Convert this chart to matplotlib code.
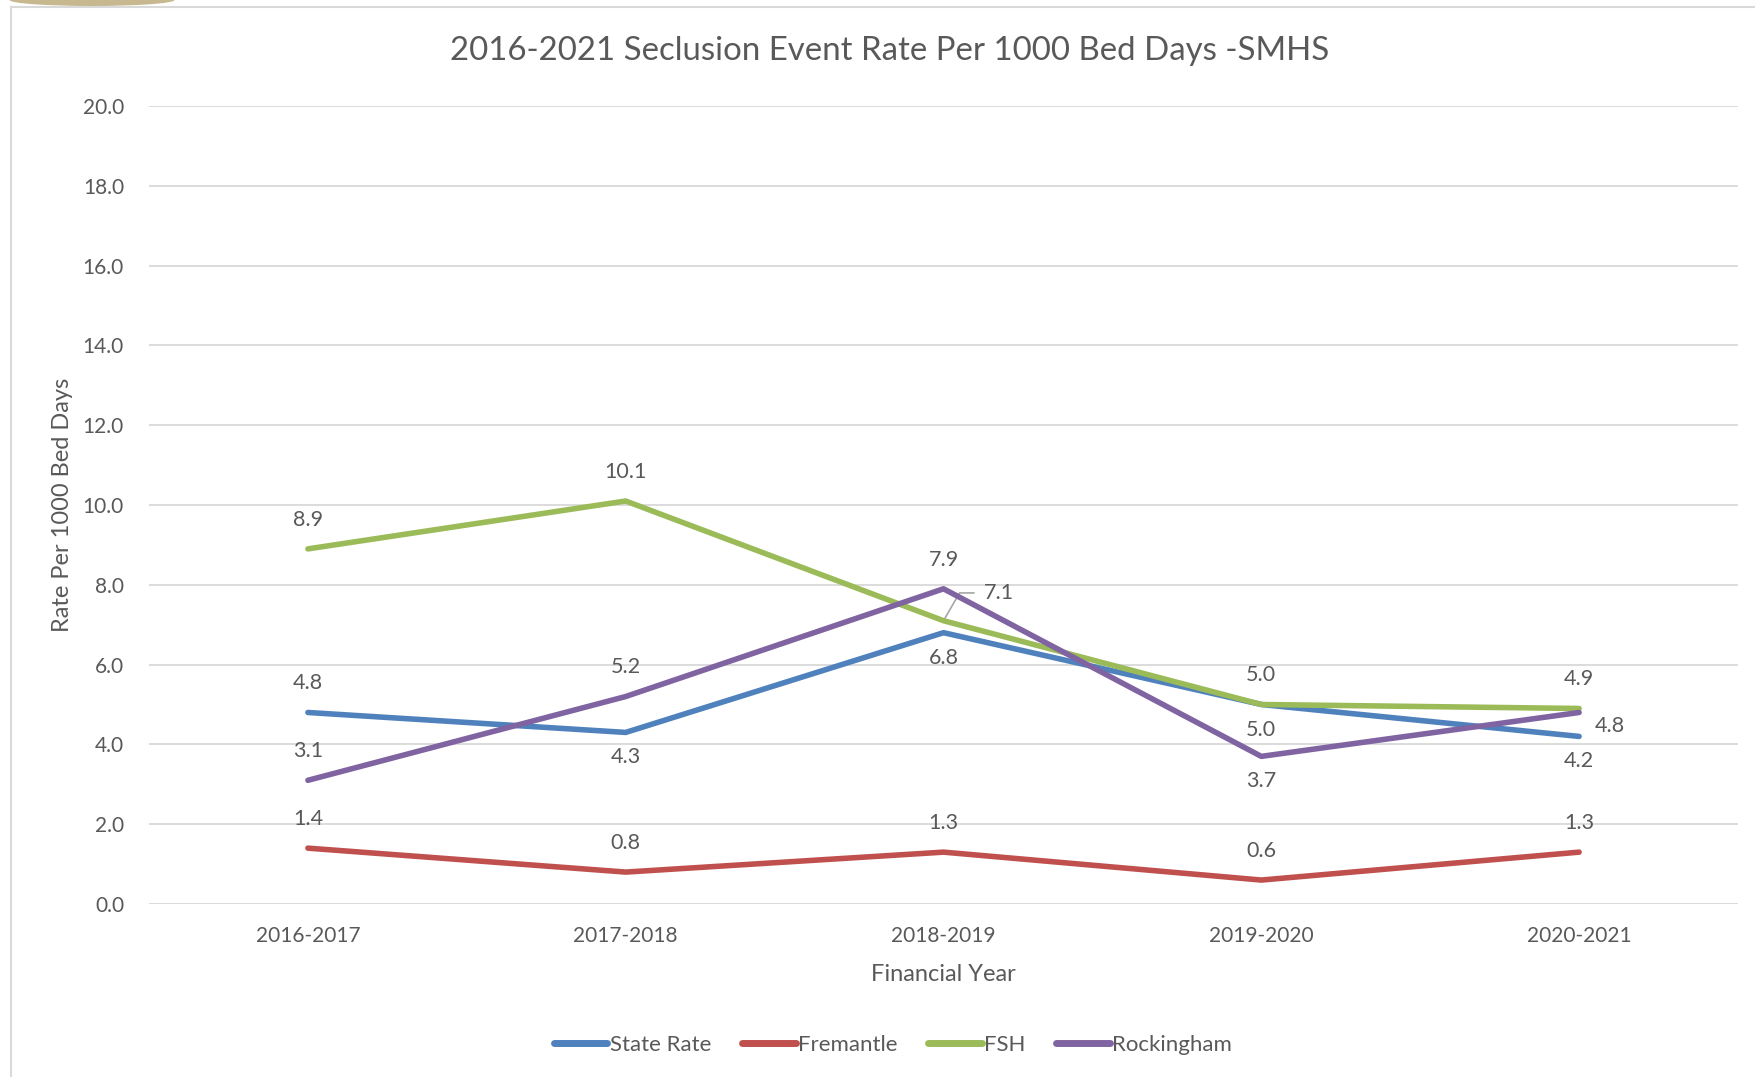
import matplotlib.pyplot as plt
from matplotlib.patches import Rectangle, Ellipse

plt.rcParams['font.family'] = ['Lato', 'DejaVu Sans']

years = ['2016-2017', '2017-2018', '2018-2019', '2019-2020', '2020-2021']
state_rate = [4.8, 4.3, 6.8, 5.0, 4.2]
fremantle = [1.4, 0.8, 1.3, 0.6, 1.3]
fsh = [8.9, 10.1, 7.1, 5.0, 4.9]
rockingham = [3.1, 5.2, 7.9, 3.7, 4.8]

names = ['State Rate', 'Fremantle', 'FSH', 'Rockingham']
colors = ['#4F81BD', '#C0504D', '#9BBB59', '#8064A2']

# where the data label sits for each point: a = above, b = below, r = right, c = callout
places = [
    ['a', 'b', 'b', 'b', 'b'],
    ['a', 'a', 'a', 'a', 'a'],
    ['a', 'a', 'c', 'a', 'a'],
    ['a', 'a', 'a', 'b', 'r'],
]

txt = '#595959'
grid = '#D9D9D9'

fig = plt.figure(figsize=(17.55, 10.77), dpi=100)
# chart border and bit of logo at the top
fig.patches.append(Rectangle((11 / 1755, -0.1), 1.2, 1.1 - 7 / 1077, transform=fig.transFigure,
                             fill=False, edgecolor=grid, linewidth=1.5))
fig.patches.append(Ellipse((92 / 1755, 1.0), 165 / 1755, 12 / 1077, transform=fig.transFigure,
                           facecolor='#C8B890', edgecolor='none'))

ax = fig.add_axes([149 / 1755, 1 - 904 / 1077, 1589 / 1755, 798 / 1077])

x = list(range(len(years)))
series = [state_rate, fremantle, fsh, rockingham]
for vals, name, col, pl in zip(series, names, colors, places):
    ax.plot(x, vals, color=col, lw=4.0, solid_capstyle='round', solid_joinstyle='round',
            label=name, zorder=3)
    for xi, v, p in zip(x, vals, pl):
        s = f'{v:.1f}'
        if p == 'a':
            ax.annotate(s, (xi, v), xytext=(0, 21), textcoords='offset points',
                        ha='center', va='center', fontsize=15.5, color=txt)
        elif p == 'b':
            ax.annotate(s, (xi, v), xytext=(0, -18), textcoords='offset points',
                        ha='center', va='center', fontsize=15.5, color=txt)
        elif p == 'r':
            ax.annotate(s, (xi, v), xytext=(22, -10), textcoords='offset points',
                        ha='center', va='center', fontsize=15.5, color=txt)
        else:
            ax.annotate(s, (xi, v), xytext=(40, 20), textcoords='offset points',
                        ha='center', va='center', fontsize=15.5, color=txt)
            ax.annotate('', (xi, v), xytext=(24, 20), textcoords='offset points',
                        arrowprops=dict(arrowstyle='-', color='#A6A6A6', lw=1.2,
                                        connectionstyle='angle,angleA=0,angleB=60,rad=0'))

ax.set_xlim(-0.5, 4.5)
ax.set_ylim(0, 20)
ax.set_yticks(range(0, 21, 2))
ax.set_yticklabels([f'{t:.1f}' for t in range(0, 21, 2)])
ax.set_xticks(x)
ax.set_xticklabels(years)
ax.tick_params(length=0, labelsize=15, labelcolor=txt)
ax.tick_params(axis='y', pad=18)
ax.tick_params(axis='x', pad=16)
ax.grid(axis='y', color=grid, lw=1.3)
ax.set_axisbelow(True)
for s in ax.spines.values():
    s.set_visible(False)

ax.set_xlabel('Financial Year', fontsize=17, color=txt, labelpad=13)
ax.set_ylabel('Rate Per 1000 Bed Days', fontsize=17, color=txt, labelpad=7)
fig.text(890 / 1755, 1 - 51 / 1077, '2016-2021 Seclusion Event Rate Per 1000 Bed Days -SMHS',
         ha='center', va='center', fontsize=23.8, color=txt)

fig.legend(loc='center', bbox_to_anchor=(893 / 1755, 1 - 1045 / 1077), ncol=4, frameon=False,
           fontsize=16, labelcolor=txt, handlelength=2.4, handletextpad=0.1, columnspacing=1.4)
for h in fig.legends[0].get_lines():
    h.set_linewidth(5)

fig.savefig('out.png', dpi=100)
